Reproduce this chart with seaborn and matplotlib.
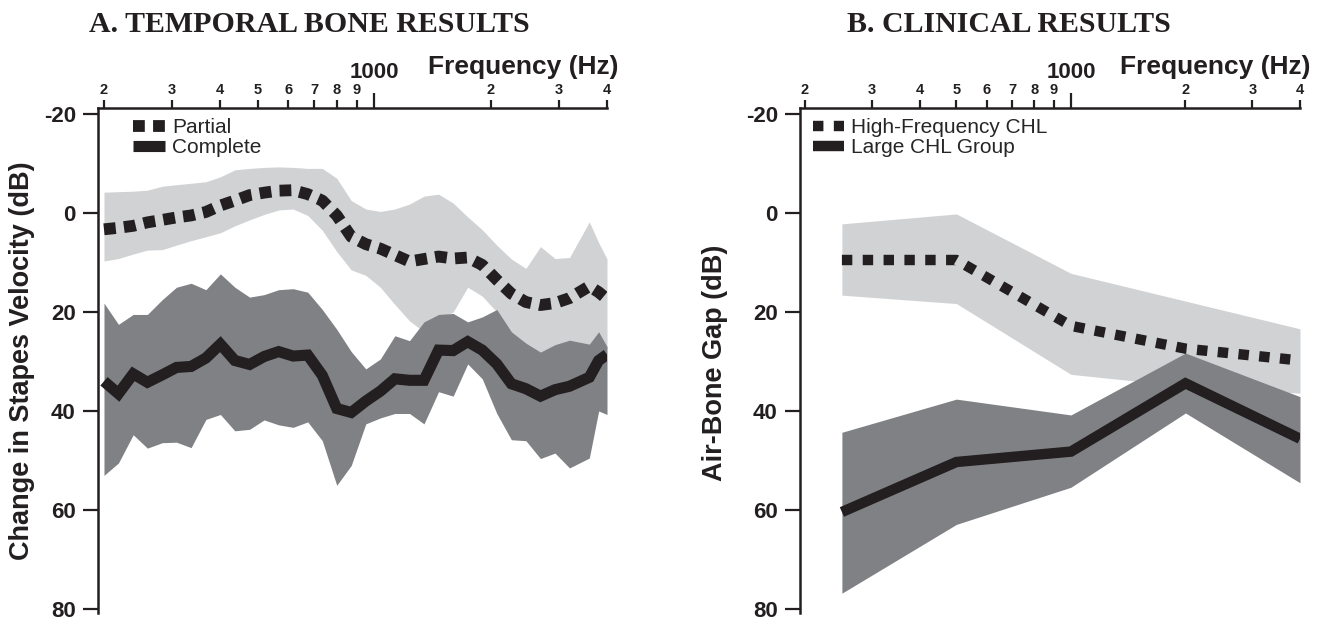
import matplotlib
matplotlib.use('Agg')
import matplotlib.pyplot as plt
from matplotlib.ticker import FixedLocator, FixedFormatter
import seaborn as sns

sns.set_style("ticks")
plt.rcParams['font.family'] = ['Liberation Sans', 'DejaVu Sans']

# ---- panel A : temporal bone results ----
temporal_freq = [200, 218, 238, 259, 283, 308, 336, 367, 400, 436, 476, 519,
                 566, 617, 673, 734, 800, 872, 951, 1037, 1131, 1234, 1345,
                 1467, 1600, 1745, 1903, 2075, 2263, 2468, 2691, 2935, 3200,
                 3600, 3806, 4000]
partial_mean = [3.3, 3.0, 2.6, 1.9, 1.4, 0.9, 0.5, -0.2, -1.5, -2.5, -3.6, -4.1,
                -4.5, -4.6, -3.8, -2.5, 0.5, 4.8, 6.3, 7.2, 8.5, 9.8, 9.3,
                8.8, 9.2, 9.0, 10.5, 13.5, 16.3, 18.0, 18.6, 18.2, 17.2,
                14.8, 16.0, 17.4]
partial_upper = [-4.2, -4.3, -4.4, -4.6, -5.4, -5.7, -6.0, -6.3, -7.3, -8.7, -9.0, -9.2,
                 -9.3, -9.2, -9.0, -9.0, -7.0, -2.5, -0.8, -0.3, -0.8, -1.8, -3.4,
                 -3.8, -2.0, 0.8, 3.4, 6.5, 9.3, 11.2, 6.8, 9.2, 9.0,
                 1.8, 6.0, 9.3]
partial_lower = [9.7, 9.2, 8.3, 7.5, 7.4, 6.5, 5.6, 4.8, 4.0, 2.6, 1.4, 0.3,
                 -0.6, -0.8, 0.5, 3.5, 7.8, 11.5, 12.6, 15.0, 18.5, 21.8, 24.0,
                 21.5, 20.0, 15.0, 16.8, 20.0, 24.5, 27.0, 28.5, 27.2, 26.5,
                 26.8, 25.0, 27.5]
complete_mean = [34.0, 36.5, 32.5, 34.2, 32.7, 31.2, 31.0, 29.3, 26.5, 29.8, 30.6, 29.0,
                 28.0, 28.9, 28.7, 32.8, 39.5, 40.3, 38.0, 36.0, 33.5, 33.8, 33.8,
                 27.7, 27.8, 26.0, 27.7, 30.5, 34.5, 35.5, 37.0, 35.7, 35.0,
                 33.2, 29.8, 28.6]
complete_upper = [18.2, 22.5, 20.5, 20.5, 17.5, 15.0, 14.2, 15.5, 12.3, 15.0, 17.0, 16.5,
                  15.5, 15.3, 16.0, 19.5, 23.5, 28.0, 31.5, 29.5, 24.8, 25.8, 22.0,
                  20.5, 20.3, 22.0, 21.0, 19.5, 24.0, 26.3, 28.1, 26.6, 25.7,
                  26.5, 24.0, 27.0]
complete_lower = [53.0, 50.5, 44.8, 47.5, 46.4, 46.3, 47.4, 41.7, 40.7, 44.0, 43.7, 41.8,
                  42.8, 43.3, 42.2, 46.0, 55.0, 51.0, 42.6, 41.4, 40.5, 40.5, 42.6,
                  36.1, 37.0, 30.5, 33.5, 40.5, 45.8, 46.0, 49.6, 48.5, 51.5,
                  49.5, 40.0, 40.7]

# ---- panel B : clinical results ----
clinical_freq = [250, 500, 1000, 2000, 4000]
hf_mean = [9.5, 9.5, 22.8, 27.4, 29.8]
hf_upper = [2.2, 0.2, 12.2, 17.8, 23.4]
hf_lower = [16.6, 18.3, 32.6, 35.0, 36.4]
large_mean = [60.4, 50.3, 48.2, 34.4, 45.6]
large_upper = [44.3, 37.6, 40.8, 28.3, 37.1]
large_lower = [76.8, 62.9, 55.4, 40.4, 54.5]

minor_ticks = [200, 300, 400, 500, 600, 700, 800, 900, 2000, 3000, 4000]
minor_labels = ['2', '3', '4', '5', '6', '7', '8', '9', '2', '3', '4']
y_ticks = [-20, 0, 20, 40, 60, 80]

LIGHT = '#d1d2d4'
DARK = '#808184'
INK = '#231f20'

W, H = 1327, 622
fig = plt.figure(figsize=(W / 100, H / 100), dpi=100)
ax1 = fig.add_axes([98 / W, 1 - 613 / H, 509 / W, 505 / H])
ax2 = fig.add_axes([800 / W, 1 - 613 / H, 500 / W, 505 / H])


def style_axis(ax, xmin):
    ax.set_xscale('log')
    ax.set_xlim(xmin, 4000)
    ax.set_ylim(80.8, -21.2)
    ax.xaxis.tick_top()
    ax.xaxis.set_major_locator(FixedLocator([1000]))
    ax.xaxis.set_major_formatter(FixedFormatter(['1000']))
    ax.xaxis.set_minor_locator(FixedLocator(minor_ticks))
    ax.xaxis.set_minor_formatter(FixedFormatter(minor_labels))
    ax.set_yticks(y_ticks)
    ax.set_yticklabels([str(v) for v in y_ticks])
    ax.tick_params(axis='x', which='major', length=11, width=1.6, pad=7,
                   labelsize=16, colors=INK)
    ax.tick_params(axis='x', which='minor', length=5.5, width=1.6, pad=2.5,
                   labelsize=10.5, colors=INK)
    ax.tick_params(axis='y', length=11, width=1.6, pad=5, labelsize=16, colors=INK)
    for lab in ax.get_xticklabels(which='both') + ax.get_yticklabels():
        lab.set_fontweight('bold')
    for side in ['bottom', 'right']:
        ax.spines[side].set_visible(False)
    for side in ['top', 'left']:
        ax.spines[side].set_linewidth(1.8)
        ax.spines[side].set_color(INK)
    ax.set_xlabel('')
    ax.grid(False)


# panel A
ax1.fill_between(temporal_freq, partial_upper, partial_lower, color=LIGHT, linewidth=0)
ax1.fill_between(temporal_freq, complete_upper, complete_lower, color=DARK, linewidth=0)
sns.lineplot(x=temporal_freq, y=partial_mean, ax=ax1, color=INK, linewidth=8.5,
             linestyle=(0, (1, 0.7)), errorbar=None, label='Partial')
sns.lineplot(x=temporal_freq, y=complete_mean, ax=ax1, color=INK, linewidth=8,
             solid_capstyle='butt', solid_joinstyle='miter', errorbar=None,
             label='Complete')
style_axis(ax1, 193)
ax1.set_ylabel('Change in Stapes Velocity (dB)', fontsize=19.5, fontweight='bold', color=INK)
ax1.yaxis.set_label_coords(-0.124, 0.5)
ax1.legend(loc='upper left', bbox_to_anchor=(0.045, 1.005), frameon=False, fontsize=15,
           handlelength=1.5, handletextpad=0.35, labelspacing=0.05, borderpad=0.1)

# panel B
ax2.fill_between(clinical_freq, hf_upper, hf_lower, color=LIGHT, linewidth=0)
ax2.fill_between(clinical_freq, large_upper, large_lower, color=DARK, linewidth=0)
sns.lineplot(x=clinical_freq, y=hf_mean, ax=ax2, color=INK, linewidth=7.5,
             linestyle=(0, (1, 1)), errorbar=None, label='High-Frequency CHL')
sns.lineplot(x=clinical_freq, y=large_mean, ax=ax2, color=INK, linewidth=7.5,
             solid_capstyle='butt', solid_joinstyle='miter', errorbar=None,
             label='Large CHL Group')
style_axis(ax2, 194)
ax2.set_ylabel('Air-Bone Gap (dB)', fontsize=19.5, fontweight='bold', color=INK)
ax2.yaxis.set_label_coords(-0.144, 0.495)
ax2.legend(loc='upper left', bbox_to_anchor=(0.0, 1.005), frameon=False, fontsize=15,
           handlelength=1.5, handletextpad=0.35, labelspacing=0.05, borderpad=0.1)

# axis titles on top
fig.text(618 / W, 1 - 74 / H, 'Frequency (Hz)', ha='right', va='baseline',
         fontsize=19, fontweight='bold', color=INK)
fig.text(1311 / W, 1 - 74 / H, 'Frequency (Hz)', ha='right', va='baseline',
         fontsize=19, fontweight='bold', color=INK)

fig.text(309 / W, 1 - 32 / H, 'A. TEMPORAL BONE RESULTS', ha='center', va='baseline',
         fontsize=21.5, fontweight='bold', family='Liberation Serif', color=INK)
fig.text(1009 / W, 1 - 32 / H, 'B. CLINICAL RESULTS', ha='center', va='baseline',
         fontsize=21.5, fontweight='bold', family='Liberation Serif', color=INK)

fig.savefig('out.png', dpi=100, facecolor='white')
